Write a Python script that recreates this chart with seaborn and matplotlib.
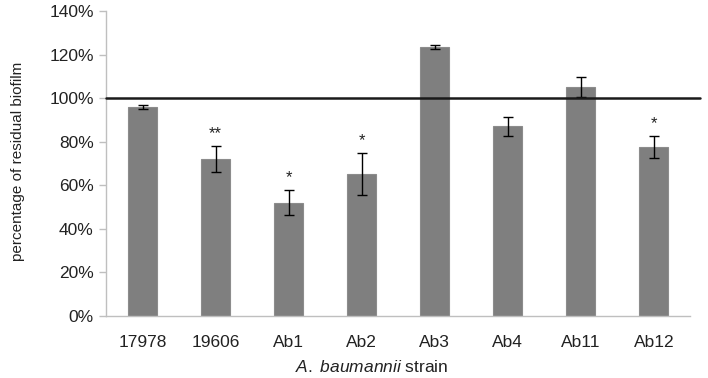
import matplotlib
matplotlib.use("Agg")
import matplotlib.pyplot as plt
import seaborn as sns
import pandas as pd
from matplotlib.ticker import FuncFormatter

strains = ["17978", "19606", "Ab1", "Ab2", "Ab3", "Ab4", "Ab11", "Ab12"]
residual = [96, 72, 52, 65, 123.5, 87, 105, 77.5]
error = [1.0, 5.8, 5.7, 9.6, 1.0, 4.3, 4.6, 5.0]
signif = ["", "**", "*", "*", "", "", "", "*"]
yticks = [0, 20, 40, 60, 80, 100, 120, 140]

sns.set_theme(style="white")
plt.rcParams["font.family"] = ["Liberation Sans", "DejaVu Sans"]
plt.rcParams["mathtext.fontset"] = "custom"
plt.rcParams["mathtext.rm"] = "Liberation Sans"
plt.rcParams["mathtext.it"] = "Liberation Sans:italic"

df = pd.DataFrame({"strain": strains, "residual": residual})

fig = plt.figure(figsize=(7.08, 3.78), dpi=100)
ax = fig.add_axes([0.150, 0.164, 0.825, 0.807])

sns.barplot(data=df, x="strain", y="residual", color="#7f7f7f", saturation=1,
            width=0.4, edgecolor="#8c8c8c", linewidth=0.8, errorbar=None, ax=ax)

ax.errorbar(range(len(strains)), residual, yerr=error, fmt="none",
            ecolor="black", elinewidth=1.0, capsize=3.5, capthick=1.0, zorder=3)

for i, (v, e, s) in enumerate(zip(residual, error, signif)):
    if s:
        ax.text(i, v + e + 2.5, s, ha="center", va="bottom", fontsize=12, color="#222222")

ax.axhline(100, xmin=0, xmax=1.017, color="#1a1a1a", linewidth=1.8, clip_on=False, zorder=4)

ax.set_ylim(0, 140)
ax.set_xlim(-0.5, len(strains) - 0.5)
ax.set_yticks(yticks)
ax.yaxis.set_major_formatter(FuncFormatter(lambda v, p: f"{v:.0f}%"))

for side in ["top", "right"]:
    ax.spines[side].set_visible(False)
for side in ["left", "bottom"]:
    ax.spines[side].set_color("#bfbfbf")
    ax.spines[side].set_linewidth(1.0)

ax.tick_params(axis="y", left=True, length=5, width=1, color="#bfbfbf",
               labelsize=12.5, labelcolor="#222222", pad=4)
ax.tick_params(axis="x", bottom=False, labelsize=12.5, labelcolor="#222222", pad=8)

ax.set_xlabel(r"$\mathit{A.}$ $\mathit{baumannii}$ strain", fontsize=12.5, color="#222222")
ax.xaxis.set_label_coords(0.455, -0.142)
ax.set_ylabel("percentage of residual biofilm", fontsize=11, color="#222222")
ax.yaxis.label.set_va("center")
ax.yaxis.set_label_coords(-0.151, 0.507)

fig.savefig("out.png", dpi=100)
